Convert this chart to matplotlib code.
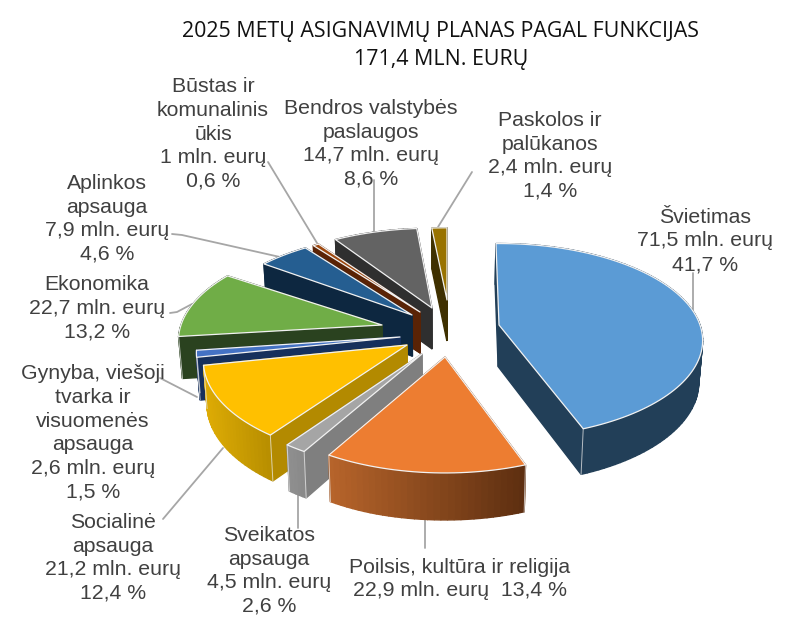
import numpy as np
import matplotlib
matplotlib.use("Agg")
import matplotlib.pyplot as plt
from matplotlib.colors import to_rgb
from matplotlib.patches import Polygon

# ---- data ----
title_lines = ["2025 METŲ ASIGNAVIMŲ PLANAS PAGAL FUNKCIJAS", "171,4 MLN. EURŲ"]
names = ["Švietimas", "Poilsis, kultūra ir religija", "Sveikatos\napsauga", "Socialinė\napsauga",
         "Gynyba, viešoji\ntvarka ir\nvisuomenės\napsauga", "Ekonomika", "Aplinkos\napsauga",
         "Būstas ir\nkomunalinis\nūkis", "Bendros valstybės\npaslaugos", "Paskolos ir\npalūkanos"]
amounts = ["71,5", "22,9", "4,5", "21,2", "2,6", "22,7", "7,9", "1", "14,7", "2,4"]
percents = [41.7, 13.4, 2.6, 12.4, 1.5, 13.2, 4.6, 0.6, 8.6, 1.4]

# ---- style / layout ----
top_cols = ["#5b9bd5", "#ed7d31", "#a5a5a5", "#ffc000", "#4472c4", "#70ad47", "#255e91", "#9e480e", "#636363", "#997300"]
side_cols = ["#223f58", "#7a3d12", "#7f7f7f", "#b38a00", "#16305c", "#2a421f", "#0d2740", "#5a2305", "#2f2f2f", "#3f3000"]
rim_grad = {1: ("#b8652b", "#5c2e10"), 3: ("#e0ad05", "#b88f00"), 2: ("#909090", "#8a8a8a")}
apex_px = [(499, 325), (445, 357), (422, 354), (407, 345), (400, 337), (382, 325), (412, 315), (420, 312), (432, 308), (447, 300)]
radial_y = [0.97, 1.0, 1.0, 1.0, 1.0, 1.0, 0.97, 0.96, 0.95, 0.86]
view_warp = [(-1, 9), (10, 11.5), (12, 8), (8.6, 6), (6, 4.6), (5.6, -2), (1, 1.4), (1.4, 1.2), (3, 0), (0, 0)]
draw_order = [9, 8, 7, 6, 5, 4, 3, 2, 1, 0]
A, B, K = 201, 97.4, 0.16
label_pos = [(705, 241), (460, 579), (269, 571), (113, 558), (93, 433), (97, 308), (107, 219), (213, 134), (371, 144), (550, 156)]
leaders = [[(693, 273), (693, 310)], [(425, 517), (425, 548)], [(298, 493), (298, 528)],
           [(163, 519), (223, 448)], [(160, 378), (197, 397)], [(170, 313), (177, 312), (192, 304)],
           [(172, 234), (182, 235), (280, 257)], [(268, 162), (317, 243)], [(374, 180), (374, 232)], [(472, 172), (438, 227)]]
TEXT = "#404040"
LINE = "#a6a6a6"

fig = plt.figure(figsize=(8, 6.41), dpi=100)
ax = fig.add_axes([0, 0, 1, 1])
ax.set_xlim(0, 800)
ax.set_ylim(641, 0)
ax.axis("off")


def project(i, deg, d0, d1):
    frac = (deg - d0) / (d1 - d0)
    t = np.radians(deg + view_warp[i][0] + (view_warp[i][1] - view_warp[i][0]) * frac)
    x, y = np.sin(t), np.cos(t)
    f = 1 / (1 + K * y)
    return np.column_stack([apex_px[i][0] + A * x * f, apex_px[i][1] - B * radial_y[i] * y * f])


def bottom(p):
    out = p.copy().astype(float)
    out[:, 0] = 440 + (p[:, 0] - 440) * 0.985
    out[:, 1] = p[:, 1] + 41 + 5 * np.clip((p[:, 1] - 310) / 130, 0, 1.2)
    return out


def mix(c1, c2, t):
    a, b = np.array(to_rgb(c1)), np.array(to_rgb(c2))
    return tuple(a + (b - a) * t)


edges = np.concatenate([[0], np.cumsum(percents)]) / sum(percents) * 360

for seg in leaders:
    s = np.array(seg)
    ax.plot(s[:, 0], s[:, 1], color=LINE, lw=1.3, zorder=1, solid_capstyle="round")

z = 2
for i in draw_order:
    d0, d1 = edges[i], edges[i + 1]
    ang = np.linspace(d0, d1, max(4, int((d1 - d0) / 1.5)))
    rim = project(i, ang, d0, d1)
    apex = np.array([apex_px[i]], dtype=float)
    outline = np.vstack([apex, rim, apex])
    low = bottom(outline)
    quads = []
    n = len(outline) - 1
    for j in range(n):
        quad = np.array([outline[j], outline[j + 1], low[j + 1], low[j]])
        is_rim = 0 < j < n - 1
        if is_rim and i in rim_grad:
            xs = rim[:, 0]
            t = (quad[:, 0].mean() - xs.min()) / max(1, xs.max() - xs.min())
            col = mix(rim_grad[i][0], rim_grad[i][1], t)
        else:
            col = side_cols[i]
        quads.append((quad[:, 1].mean(), quad, col))
    for _, quad, col in sorted(quads, key=lambda q: q[0]):
        ax.add_patch(Polygon(quad, closed=True, facecolor=col, edgecolor=col, lw=1.0, zorder=z))
    # light vertical edges at front-facing rim corners
    for p, q in [(outline[1], low[1]), (outline[-2], low[-2])]:
        if p[1] > apex[0, 1]:
            ax.plot([p[0], q[0]], [p[1], q[1]], color="#e8e8e8", lw=0.7, zorder=z, alpha=0.75)
    ax.add_patch(Polygon(outline[:-1], closed=True, facecolor=top_cols[i], edgecolor="#f2f2f2", lw=0.9,
                         joinstyle="round", zorder=z))
    z += 1

for name, am, pc, (x, y) in zip(names, amounts, percents, label_pos):
    pct = f"{pc:.1f}".replace(".", ",") + " %"
    if name.startswith("Poilsis"):
        txt = f"{name}\n{am} mln. eurų  {pct}"
    else:
        txt = f"{name}\n{am} mln. eurų\n{pct}"
    ax.text(x, y, txt, ha="center", va="center", family="Liberation Sans", fontsize=15.3,
            color=TEXT, linespacing=1.31, zorder=50)

for line, y in zip(title_lines, (32, 60)):
    ax.text(441, y, line, ha="center", va="center", family="Open Sans", fontsize=15.4,
            color="#111111", zorder=50)

fig.savefig("out.png", dpi=100, facecolor="white")
